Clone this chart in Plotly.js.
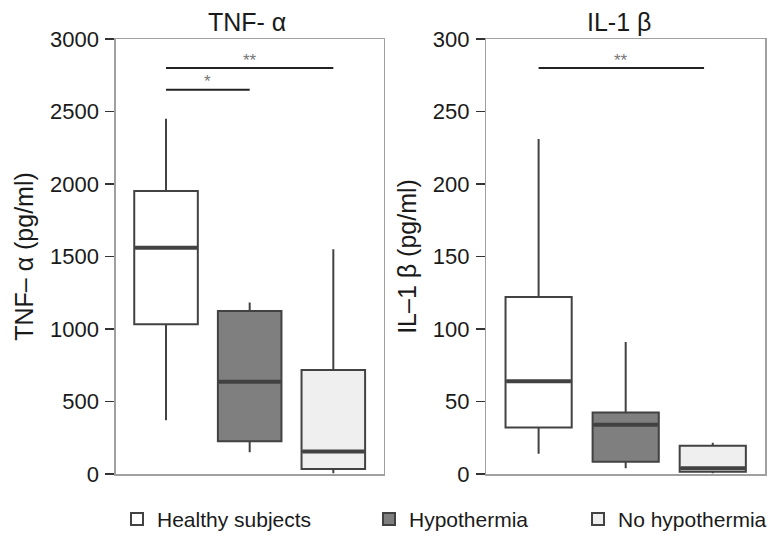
<!DOCTYPE html>
<html>
<head>
<meta charset="utf-8">
<script src="https://cdn.plot.ly/plotly-3.0.1.min.js"></script>
<style>html,body{margin:0;padding:0;background:#fff;}#chart{width:772px;height:541px;}</style>
</head>
<body>
<div id="chart"></div>
<script>
// ---- data ----
const groups = ['Healthy subjects', 'Hypothermia', 'No hypothermia'];
const positions = [1, 2, 3];

const tnfLower  = [370, 150, 5];
const tnfQ1     = [1032, 225, 34];
const tnfMedian = [1560, 637, 156];
const tnfQ3     = [1952, 1124, 717];
const tnfUpper  = [2450, 1182, 1550];

const ilLower  = [14, 4, 0.5];
const ilQ1     = [32, 8.5, 1.5];
const ilMedian = [64, 34, 4];
const ilQ3     = [122, 42.5, 19.5];
const ilUpper  = [231, 91, 21.5];

const tnfSigFrom  = [1, 1];
const tnfSigTo    = [2, 3];
const tnfSigY     = [2650, 2800];
const tnfSigLabel = ['*', '**'];

const ilSigFrom  = [1];
const ilSigTo    = [2.9];
const ilSigY     = [280];
const ilSigLabel = ['**'];

const panelTitles = ['TNF- α', 'IL-1 β'];
const yTitles = ['TNF– α (pg/ml)', 'IL–1 β (pg/ml)'];

// ---- styles ----
const fills = ['#ffffff', '#7f7f7f', '#efefef'];
const lineCol = '#424242';
const FONT = 'Liberation Sans, Arial, Helvetica, sans-serif';
const BOXW = 0.76;
const legendIds = ['legend', 'legend2', 'legend3'];
const legendX = [117, 369, 579];

const traces = [];
function addPanel(lower, q1, med, q3, upper, xa, ya, showLeg) {
  groups.forEach((g, i) => {
    traces.push({
      type: 'box', x: [positions[i]], q1: [q1[i]], median: [med[i]], q3: [q3[i]],
      lowerfence: [lower[i]], upperfence: [upper[i]],
      name: g, legendgroup: g, showlegend: showLeg, legend: legendIds[i],
      fillcolor: fills[i], line: {color: lineCol, width: 2},
      width: BOXW, whiskerwidth: 0, boxpoints: false, hoverinfo: 'y',
      xaxis: xa, yaxis: ya
    });
  });
  // thicker median segments
  const mx = [], my = [];
  groups.forEach((g, i) => {
    mx.push(positions[i] - BOXW / 2 + 0.01, positions[i] + BOXW / 2 - 0.01, null);
    my.push(med[i], med[i], null);
  });
  traces.push({type: 'scatter', mode: 'lines', x: mx, y: my, line: {color: lineCol, width: 4},
    showlegend: false, hoverinfo: 'skip', xaxis: xa, yaxis: ya});
}
addPanel(tnfLower, tnfQ1, tnfMedian, tnfQ3, tnfUpper, 'x', 'y', true);
addPanel(ilLower, ilQ1, ilMedian, ilQ3, ilUpper, 'x2', 'y2', false);

const annotations = [];
function addSig(from, to, ys, labels, xa, ya) {
  const sx = [], sy = [];
  from.forEach((f, i) => {
    sx.push(f, to[i], null); sy.push(ys[i], ys[i], null);
    annotations.push({x: (f + to[i]) / 2, y: ys[i], xref: xa, yref: ya, text: labels[i],
      showarrow: false, xanchor: 'center', yanchor: 'middle', yshift: 8,
      font: {family: FONT, size: 17, color: '#777'}});
  });
  traces.push({type: 'scatter', mode: 'lines', x: sx, y: sy, line: {color: '#222', width: 2},
    showlegend: false, hoverinfo: 'skip', xaxis: xa, yaxis: ya});
}
addSig(tnfSigFrom, tnfSigTo, tnfSigY, tnfSigLabel, 'x', 'y');
addSig(ilSigFrom, ilSigTo, ilSigY, ilSigLabel, 'x2', 'y2');

const W = 772, H = 541;
const dom1 = [116 / W, 384 / W];
const dom2 = [487 / W, 766 / W];
const ydom = [1 - 474 / H, 1 - 39 / H];

annotations.push({x: 247 / W, y: 1 - 22 / H, xref: 'paper', yref: 'paper', xanchor: 'center', yanchor: 'middle',
  text: panelTitles[0], showarrow: false, font: {family: FONT, size: 25, color: '#1a1a1a'}});
annotations.push({x: 620 / W, y: 1 - 22 / H, xref: 'paper', yref: 'paper', xanchor: 'center', yanchor: 'middle',
  text: panelTitles[1], showarrow: false, font: {family: FONT, size: 25, color: '#1a1a1a'}});

const xBase = {range: [0.4, 3.6], showticklabels: false, ticks: '', showgrid: false, zeroline: false,
  showline: true, mirror: true, linecolor: '#a0a0a0', linewidth: 1.5, fixedrange: true};
const yBase = {showgrid: false, zeroline: false, showline: true, mirror: true, linecolor: '#a0a0a0',
  linewidth: 1.5, ticks: 'outside', ticklen: 9, tickwidth: 1.5, tickcolor: '#333',
  tickfont: {family: FONT, size: 22, color: '#1a1a1a'}, ticklabelstandoff: 2};

function legendAt(px) {
  return {orientation: 'h', x: px / W, xanchor: 'left', y: 0.002, yanchor: 'bottom',
    font: {family: FONT, size: 21, color: '#1a1a1a'}, bgcolor: 'rgba(0,0,0,0)', borderwidth: 0};
}

const layout = {
  width: W, height: H, margin: {l: 0, r: 0, t: 0, b: 0},
  paper_bgcolor: '#fff', plot_bgcolor: '#fff',
  font: {family: FONT, color: '#1a1a1a'},
  boxmode: 'overlay',
  xaxis: Object.assign({}, xBase, {domain: dom1, anchor: 'y'}),
  xaxis2: Object.assign({}, xBase, {domain: dom2, anchor: 'y2'}),
  yaxis: Object.assign({}, yBase, {domain: ydom, anchor: 'x', range: [0, 3000], tickvals: [0, 500, 1000, 1500, 2000, 2500, 3000],
    title: {text: yTitles[0], standoff: 9, font: {family: FONT, size: 25, color: '#1a1a1a'}}}),
  yaxis2: Object.assign({}, yBase, {domain: ydom, anchor: 'x2', range: [0, 300], tickvals: [0, 50, 100, 150, 200, 250, 300],
    title: {text: yTitles[1], standoff: 9, font: {family: FONT, size: 25, color: '#1a1a1a'}}}),
  showlegend: true,
  legend: legendAt(legendX[0]),
  legend2: legendAt(legendX[1]),
  legend3: legendAt(legendX[2]),
  annotations: annotations
};

Plotly.newPlot('chart', traces, layout, {displayModeBar: false, staticPlot: true});
</script>
</body>
</html>
